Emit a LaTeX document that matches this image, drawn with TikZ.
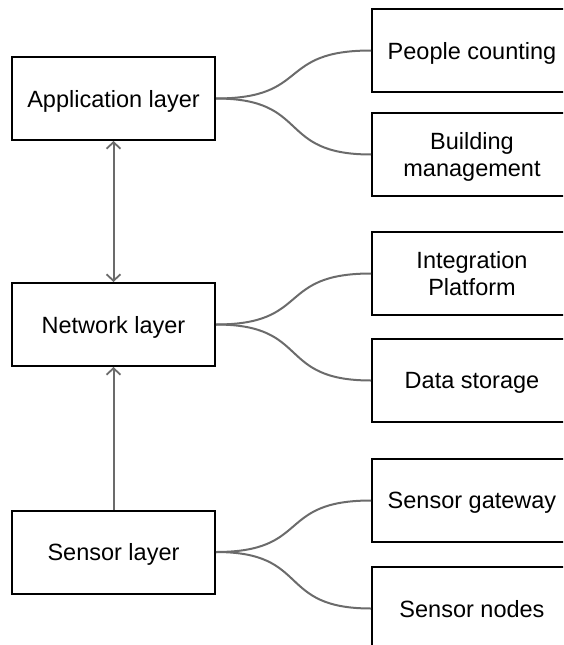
\documentclass[tikz,border=0pt]{standalone}
\usepackage{fontspec}
\setmainfont{Liberation Sans}
\usetikzlibrary{arrows.meta,calc}
\begin{document}
\begin{tikzpicture}[x=1pt,y=-1pt,
  box/.style={draw=black,line width=2pt,minimum width=203pt,minimum height=83pt,inner sep=0pt,align=center,font=\fontsize{23.5}{27}\selectfont,text depth=0pt,anchor=center},
  rbox/.style={box,minimum width=200pt},
  conn/.style={draw=black!58,line width=2pt},
  tip/.style={-{Straight Barb[length=6.5pt,width=14pt,line width=1.8pt]}}
]
\useasboundingbox (0,0) rectangle (563,645);
\begin{scope}
\clip (0,0) rectangle (563,645);
\node[box] (app) at (113.5,98.5) {Application layer};
\node[box] (net) at (113.5,324.5) {Network layer};
\node[box] (sen) at (113.5,552) {Sensor layer};
\node[rbox] (pc) at (472,50.5) {People counting};
\node[rbox] (bm) at (472,154.5) {Building\\management};
\node[rbox] (ip) at (472,273.5) {Integration\\Platform};
\node[rbox] (ds) at (472,380.5) {Data storage};
\node[rbox] (sg) at (472,500.5) {Sensor gateway};
\node[rbox] (sn) at (472,608.5) {Sensor nodes};
\foreach \s/\t in {app/pc,app/bm,net/ip,net/ds,sen/sg,sen/sn}{
  \draw[conn] (\s.east) .. controls ($(\s.east)+(95,0)$) and ($(\t.west)+(-95,0)$) .. (\t.west);
}
\draw[conn,{Straight Barb[length=6.5pt,width=14pt,line width=1.8pt]}-{Straight Barb[length=6.5pt,width=14pt,line width=1.8pt]}] (app.south) -- (net.north);
\draw[conn,tip] (sen.north) -- (net.south);
\end{scope}
\end{tikzpicture}
\end{document}
